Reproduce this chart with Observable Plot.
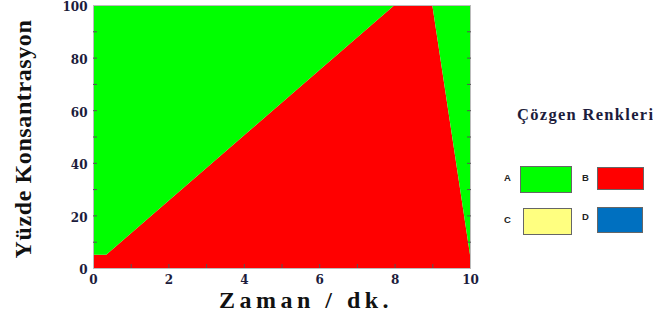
<!DOCTYPE html>
<html>
<head>
<meta charset="utf-8">
<script src="https://cdn.jsdelivr.net/npm/d3@7"></script>
<script src="https://cdn.jsdelivr.net/npm/@observablehq/plot@0.6"></script>
<style>
  body { margin: 0; background: #fff; }
  #wrap { position: relative; width: 653px; height: 325px; overflow: hidden; }
  #wrap svg { overflow: visible; }
  .lg { position: absolute; font-family: "Liberation Sans", Arial, sans-serif; font-weight: bold; font-size: 9.5px; color: #222; }
  .box { position: absolute; box-sizing: border-box; border: 1.5px solid #666; }
  #lgtitle { position: absolute; left: 517px; top: 105px; font-family: "Liberation Serif", serif; font-weight: bold; font-size: 16.5px; letter-spacing: 1.3px; color: #1c1c3c; white-space: nowrap; }
</style>
</head>
<body>
<div id="wrap"></div>
<script>
// Data
const time = [0, 0.35, 8, 9, 10];
const solventB = [5, 5, 100, 100, 5];
const solventA = solventB.map(v => 100 - v);
const solventNames = ["A", "B", "C", "D"];
const solventColors = ["#00ff00", "#ff0000", "#ffff80", "#0070c0"];
const yTicks = [0, 20, 40, 60, 80, 100];
const xTicks = [0, 2, 4, 6, 8, 10];
const xTitle = "Zaman / dk.";
const yTitle = "Yüzde Konsantrasyon";

const rows = [];
time.forEach((t, i) => {
  rows.push({t, pct: solventB[i], s: "B"});
  rows.push({t, pct: solventA[i], s: "A"});
});

const ink = "#1c1c3c";
const plot = Plot.plot({
  width: 653,
  height: 325,
  marginLeft: 93,
  marginRight: 183,
  marginTop: 5,
  marginBottom: 57,
  style: {fontFamily: "DejaVu Serif, serif", fontWeight: "bold", fontSize: "12px", color: ink, background: "transparent"},
  x: {domain: [0, 10]},
  y: {domain: [0, 100]},
  color: {domain: solventNames, range: solventColors},
  marks: [
    Plot.areaY(rows, Plot.stackY({order: ["B", "A"]}, {x: "t", y: "pct", fill: "s", curve: "linear"})),
    Plot.frame({stroke: "#bbb"}),
    Plot.axisY(d3.range(10, 100, 10), {tickSize: -4, stroke: "#555", text: null, label: null}),
    Plot.axisY(d3.range(10, 100, 10), {anchor: "right", tickSize: -4, stroke: "#555", text: null, label: null}),
    Plot.axisX(d3.range(1, 10, 1), {tickSize: -4, stroke: "#555", text: null, label: null}),
    Plot.axisY(yTicks, {tickSize: 0, tickPadding: 6, dy: 2, fill: ink, label: null}),
    Plot.axisX(xTicks, {tickSize: 0, tickPadding: 7, fill: ink, label: null}),
    Plot.text([xTitle], {frameAnchor: "bottom", dy: 39, dx: 24, fontSize: 24, fontFamily: "Liberation Serif, serif", fontWeight: "bold", fill: "#111"}),
    Plot.text([yTitle], {frameAnchor: "left", textAnchor: "middle", dx: -70, dy: 2, rotate: -90, fontSize: 24, fontFamily: "Liberation Serif, serif", fontWeight: "bold", fill: "#111"})
  ]
});
const wrap = document.getElementById("wrap");
wrap.appendChild(plot);
const allText = d3.select(plot).selectAll("text");
allText.filter(function () { return this.textContent === xTitle; }).attr("letter-spacing", "4.5");
allText.filter(function () { return this.textContent === yTitle; }).attr("letter-spacing", "0.6");
allText.filter(function () { return yTicks.map(String).includes(this.textContent) && this.getAttribute("text-anchor") === "end"; }).attr("letter-spacing", "1");

// Legend
const t = document.createElement("div");
t.id = "lgtitle";
t.textContent = "Çözgen Renkleri";
wrap.appendChild(t);
const boxes = [
  {lx: 504, ly: 172, bx: 520, by: 166, w: 52, h: 27},
  {lx: 582, ly: 172, bx: 597, by: 167, w: 47, h: 23},
  {lx: 504, ly: 214, bx: 523, by: 208, w: 49, h: 27},
  {lx: 582, ly: 211, bx: 597, by: 207, w: 46, h: 26}
];
solventNames.forEach((n, i) => {
  const b = boxes[i];
  const l = document.createElement("div");
  l.className = "lg"; l.textContent = n;
  l.style.left = b.lx + "px"; l.style.top = b.ly + "px";
  wrap.appendChild(l);
  const r = document.createElement("div");
  r.className = "box";
  r.style.left = b.bx + "px"; r.style.top = b.by + "px";
  r.style.width = b.w + "px"; r.style.height = b.h + "px";
  r.style.background = solventColors[i];
  wrap.appendChild(r);
});
</script>
</body>
</html>
